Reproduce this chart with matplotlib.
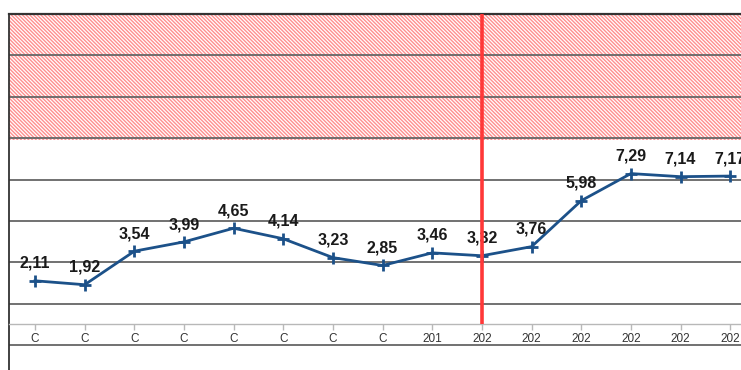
import matplotlib
matplotlib.use("Agg")
import matplotlib.pyplot as plt
import numpy as np

categories = ["C", "C", "C", "C", "C", "C", "C", "C",
              "201", "202", "202", "202", "202", "202", "202"]
values = [2.11, 1.92, 3.54, 3.99, 4.65, 4.14, 3.23, 2.85,
          3.46, 3.32, 3.76, 5.98, 7.29, 7.14, 7.17]
value_labels = ["2,11", "1,92", "3,54", "3,99", "4,65", "4,14", "3,23", "2,85",
                "3,46", "3,32", "3,76", "5,98", "7,29", "7,14", "7,17"]
grid_levels = [-1, 1, 3, 5, 7, 9, 11, 13]
band_low, band_high = 9, 15
marker_index = 9

plt.rcParams["font.family"] = ["Liberation Sans", "DejaVu Sans"]
plt.rcParams["hatch.linewidth"] = 1.0

W, H = 741, 370
fig = plt.figure(figsize=(W / 100, H / 100), dpi=100)
ax = fig.add_axes([9 / W, 0, 746 / W, (H - 14) / H])

x = np.arange(len(values))
ax.set_xlim(-0.524, 14.5)
ax.set_ylim(-2.2, band_high)

# hatched band at the top
ax.axhspan(band_low - 0.08, band_high, facecolor="white", edgecolor="#ff8f8f",
           hatch="\\" * 9, linewidth=0, zorder=0.5)

# horizontal grid lines
for g in grid_levels:
    ax.axhline(g, color="#666666", lw=1.3, zorder=1)

# vertical marker line
ax.plot([marker_index, marker_index], [0, band_high], color="#ff3838",
        lw=2.6, zorder=6, solid_capstyle="butt")

# series
ax.plot(x, values, color="#1c5189", lw=2.0, marker="+", ms=9, mew=2.0, zorder=4)
for xi, v, lab in zip(x, values, value_labels):
    ax.annotate(lab, (xi, v), xytext=(0, 12.5), textcoords="offset points",
                ha="center", va="center", fontsize=11.5, fontweight="bold",
                color="#1a1a1a", zorder=5)

# spines and axis
for s in ["right", "bottom", "top", "left"]:
    ax.spines[s].set_visible(False)
ax.spines["left"].set_visible(True)
ax.spines["left"].set_color("#333333")
ax.spines["left"].set_linewidth(1.3)
ax.spines["top"].set_visible(True)
ax.spines["top"].set_color("#333333")
ax.spines["top"].set_linewidth(1.6)
ax.spines["bottom"].set_visible(True)
ax.spines["bottom"].set_position(("data", 0))
ax.spines["bottom"].set_color("#b8b8b8")
ax.spines["bottom"].set_linewidth(1.0)

ax.set_yticks([])
ax.set_xticks(x)
ax.set_xticklabels(categories, fontsize=8.5, color="#333333")
ax.tick_params(axis="x", direction="out", length=4.5, width=1.0,
               color="#b8b8b8", pad=1.5)

fig.savefig("out.png", dpi=100)
